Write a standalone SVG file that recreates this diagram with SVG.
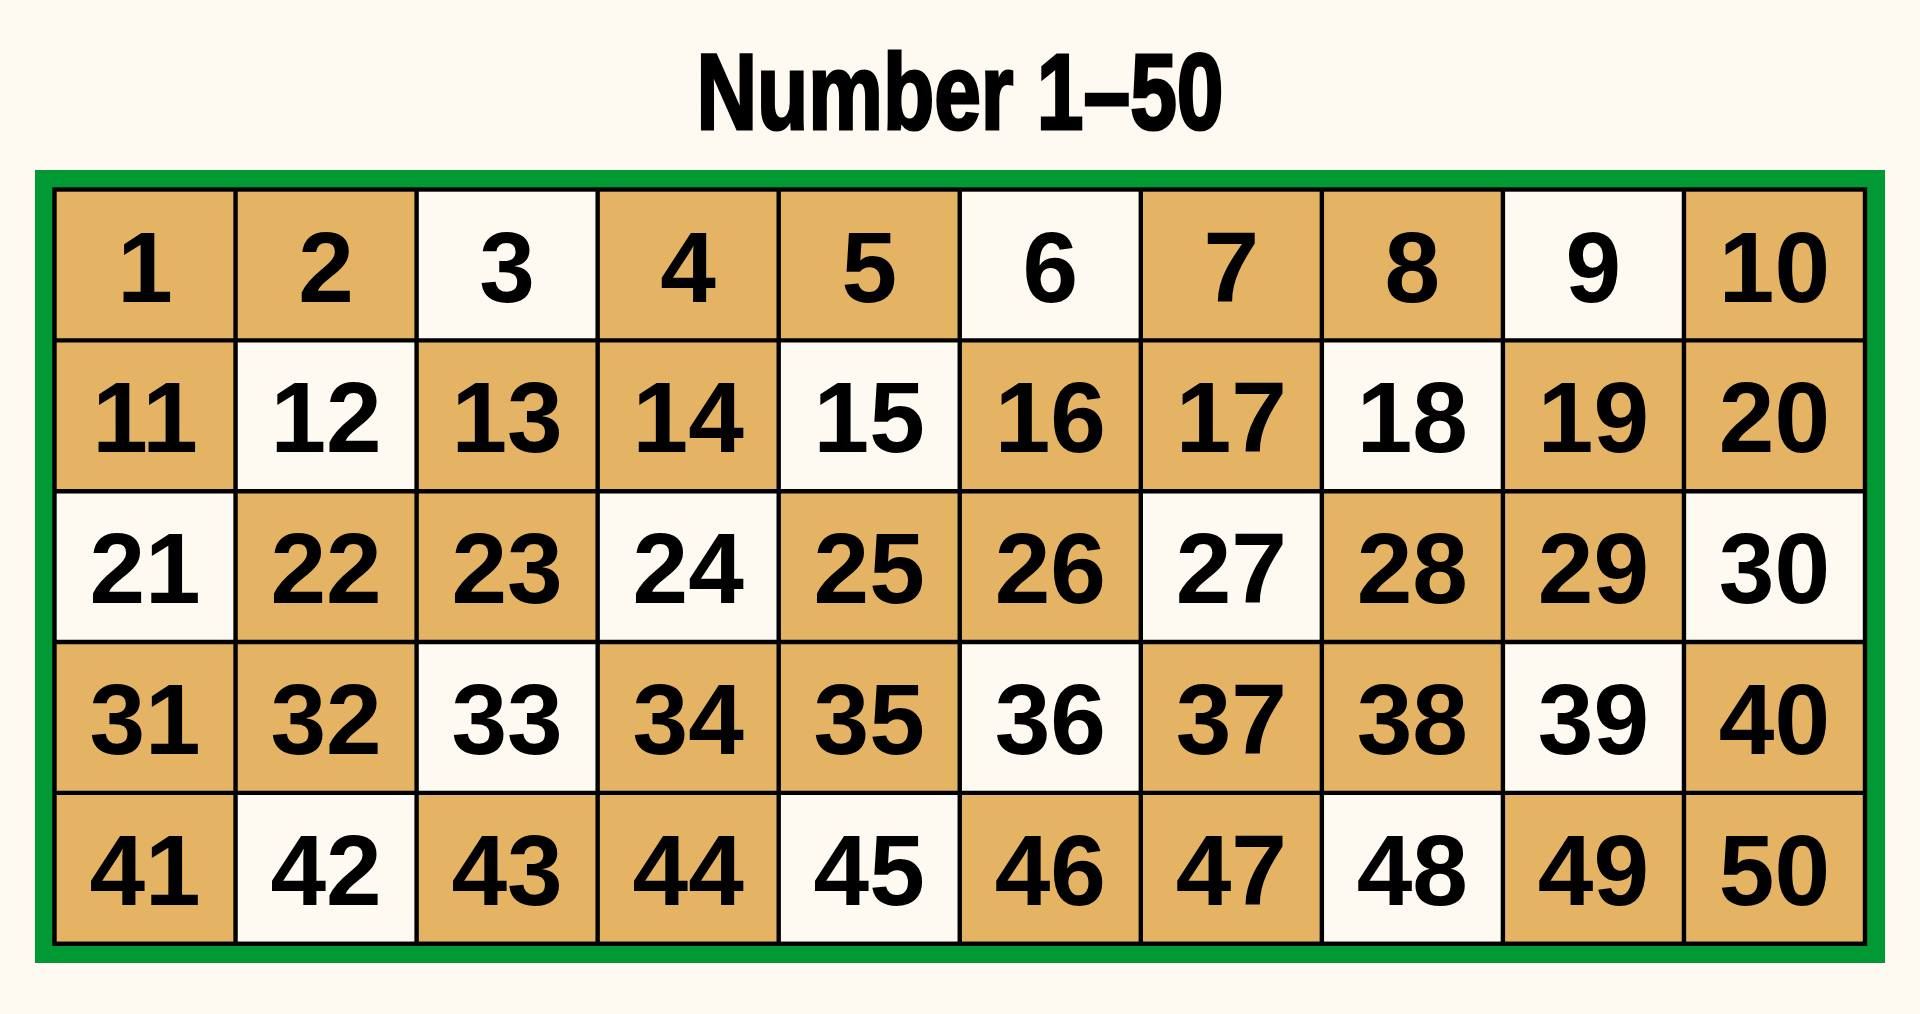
<svg xmlns="http://www.w3.org/2000/svg" width="1920" height="1014" viewBox="0 0 1920 1014">
<style>
.bg{fill:#FEFAF2}
.t{fill:#E4B363}
.w{fill:#FEFAF2}
.n{font-family:"Liberation Sans",Arial,sans-serif;font-weight:bold;font-size:100px;fill:#000;text-anchor:middle}
.title{font-family:"Liberation Sans Narrow","Liberation Sans",Arial,sans-serif;font-weight:bold;font-size:108px;fill:#000;stroke:#000;stroke-width:3;stroke-linejoin:miter;text-anchor:middle}
.ln{stroke:#000;stroke-width:4.4;fill:none}
</style>
<rect class="bg" x="0" y="0" width="1920" height="1014"/>
<text id="title" class="title" x="960" y="129" textLength="527" lengthAdjust="spacingAndGlyphs">Number 1–50</text>
<rect id="frame" x="35" y="170" width="1850" height="793" fill="#009933"/>
<g id="cells">
<g id="c1"><rect class="t" x="54.5" y="189.5" width="181.05" height="150.85"/><text class="n" x="145.03" y="301.5">1</text></g>
<g id="c2"><rect class="t" x="235.55" y="189.5" width="181.05" height="150.85"/><text class="n" x="326.08" y="301.5">2</text></g>
<g id="c3"><rect class="w" x="416.6" y="189.5" width="181.05" height="150.85"/><text class="n" x="507.13" y="301.5">3</text></g>
<g id="c4"><rect class="t" x="597.65" y="189.5" width="181.05" height="150.85"/><text class="n" x="688.18" y="301.5">4</text></g>
<g id="c5"><rect class="t" x="778.7" y="189.5" width="181.05" height="150.85"/><text class="n" x="869.23" y="301.5">5</text></g>
<g id="c6"><rect class="w" x="959.75" y="189.5" width="181.05" height="150.85"/><text class="n" x="1050.28" y="301.5">6</text></g>
<g id="c7"><rect class="t" x="1140.8" y="189.5" width="181.05" height="150.85"/><text class="n" x="1231.33" y="301.5">7</text></g>
<g id="c8"><rect class="t" x="1321.85" y="189.5" width="181.05" height="150.85"/><text class="n" x="1412.38" y="301.5">8</text></g>
<g id="c9"><rect class="w" x="1502.9" y="189.5" width="181.05" height="150.85"/><text class="n" x="1593.43" y="301.5">9</text></g>
<g id="c10"><rect class="t" x="1683.95" y="189.5" width="181.05" height="150.85"/><text class="n" x="1774.48" y="301.5">10</text></g>
<g id="c11"><rect class="t" x="54.5" y="340.35" width="181.05" height="150.85"/><text class="n" x="145.03" y="452.35">11</text></g>
<g id="c12"><rect class="w" x="235.55" y="340.35" width="181.05" height="150.85"/><text class="n" x="326.08" y="452.35">12</text></g>
<g id="c13"><rect class="t" x="416.6" y="340.35" width="181.05" height="150.85"/><text class="n" x="507.13" y="452.35">13</text></g>
<g id="c14"><rect class="t" x="597.65" y="340.35" width="181.05" height="150.85"/><text class="n" x="688.18" y="452.35">14</text></g>
<g id="c15"><rect class="w" x="778.7" y="340.35" width="181.05" height="150.85"/><text class="n" x="869.23" y="452.35">15</text></g>
<g id="c16"><rect class="t" x="959.75" y="340.35" width="181.05" height="150.85"/><text class="n" x="1050.28" y="452.35">16</text></g>
<g id="c17"><rect class="t" x="1140.8" y="340.35" width="181.05" height="150.85"/><text class="n" x="1231.33" y="452.35">17</text></g>
<g id="c18"><rect class="w" x="1321.85" y="340.35" width="181.05" height="150.85"/><text class="n" x="1412.38" y="452.35">18</text></g>
<g id="c19"><rect class="t" x="1502.9" y="340.35" width="181.05" height="150.85"/><text class="n" x="1593.43" y="452.35">19</text></g>
<g id="c20"><rect class="t" x="1683.95" y="340.35" width="181.05" height="150.85"/><text class="n" x="1774.48" y="452.35">20</text></g>
<g id="c21"><rect class="w" x="54.5" y="491.2" width="181.05" height="150.85"/><text class="n" x="145.03" y="603.2">21</text></g>
<g id="c22"><rect class="t" x="235.55" y="491.2" width="181.05" height="150.85"/><text class="n" x="326.08" y="603.2">22</text></g>
<g id="c23"><rect class="t" x="416.6" y="491.2" width="181.05" height="150.85"/><text class="n" x="507.13" y="603.2">23</text></g>
<g id="c24"><rect class="w" x="597.65" y="491.2" width="181.05" height="150.85"/><text class="n" x="688.18" y="603.2">24</text></g>
<g id="c25"><rect class="t" x="778.7" y="491.2" width="181.05" height="150.85"/><text class="n" x="869.23" y="603.2">25</text></g>
<g id="c26"><rect class="t" x="959.75" y="491.2" width="181.05" height="150.85"/><text class="n" x="1050.28" y="603.2">26</text></g>
<g id="c27"><rect class="w" x="1140.8" y="491.2" width="181.05" height="150.85"/><text class="n" x="1231.33" y="603.2">27</text></g>
<g id="c28"><rect class="t" x="1321.85" y="491.2" width="181.05" height="150.85"/><text class="n" x="1412.38" y="603.2">28</text></g>
<g id="c29"><rect class="t" x="1502.9" y="491.2" width="181.05" height="150.85"/><text class="n" x="1593.43" y="603.2">29</text></g>
<g id="c30"><rect class="w" x="1683.95" y="491.2" width="181.05" height="150.85"/><text class="n" x="1774.48" y="603.2">30</text></g>
<g id="c31"><rect class="t" x="54.5" y="642.05" width="181.05" height="150.85"/><text class="n" x="145.03" y="754.05">31</text></g>
<g id="c32"><rect class="t" x="235.55" y="642.05" width="181.05" height="150.85"/><text class="n" x="326.08" y="754.05">32</text></g>
<g id="c33"><rect class="w" x="416.6" y="642.05" width="181.05" height="150.85"/><text class="n" x="507.13" y="754.05">33</text></g>
<g id="c34"><rect class="t" x="597.65" y="642.05" width="181.05" height="150.85"/><text class="n" x="688.18" y="754.05">34</text></g>
<g id="c35"><rect class="t" x="778.7" y="642.05" width="181.05" height="150.85"/><text class="n" x="869.23" y="754.05">35</text></g>
<g id="c36"><rect class="w" x="959.75" y="642.05" width="181.05" height="150.85"/><text class="n" x="1050.28" y="754.05">36</text></g>
<g id="c37"><rect class="t" x="1140.8" y="642.05" width="181.05" height="150.85"/><text class="n" x="1231.33" y="754.05">37</text></g>
<g id="c38"><rect class="t" x="1321.85" y="642.05" width="181.05" height="150.85"/><text class="n" x="1412.38" y="754.05">38</text></g>
<g id="c39"><rect class="w" x="1502.9" y="642.05" width="181.05" height="150.85"/><text class="n" x="1593.43" y="754.05">39</text></g>
<g id="c40"><rect class="t" x="1683.95" y="642.05" width="181.05" height="150.85"/><text class="n" x="1774.48" y="754.05">40</text></g>
<g id="c41"><rect class="t" x="54.5" y="792.9" width="181.05" height="150.85"/><text class="n" x="145.03" y="904.9">41</text></g>
<g id="c42"><rect class="w" x="235.55" y="792.9" width="181.05" height="150.85"/><text class="n" x="326.08" y="904.9">42</text></g>
<g id="c43"><rect class="t" x="416.6" y="792.9" width="181.05" height="150.85"/><text class="n" x="507.13" y="904.9">43</text></g>
<g id="c44"><rect class="t" x="597.65" y="792.9" width="181.05" height="150.85"/><text class="n" x="688.18" y="904.9">44</text></g>
<g id="c45"><rect class="w" x="778.7" y="792.9" width="181.05" height="150.85"/><text class="n" x="869.23" y="904.9">45</text></g>
<g id="c46"><rect class="t" x="959.75" y="792.9" width="181.05" height="150.85"/><text class="n" x="1050.28" y="904.9">46</text></g>
<g id="c47"><rect class="t" x="1140.8" y="792.9" width="181.05" height="150.85"/><text class="n" x="1231.33" y="904.9">47</text></g>
<g id="c48"><rect class="w" x="1321.85" y="792.9" width="181.05" height="150.85"/><text class="n" x="1412.38" y="904.9">48</text></g>
<g id="c49"><rect class="t" x="1502.9" y="792.9" width="181.05" height="150.85"/><text class="n" x="1593.43" y="904.9">49</text></g>
<g id="c50"><rect class="t" x="1683.95" y="792.9" width="181.05" height="150.85"/><text class="n" x="1774.48" y="904.9">50</text></g>
</g>
<g id="connectors">
<rect class="ln" x="54.5" y="189.5" width="1810.5" height="754.25"/>
<path class="ln" d="M235.55 189.5V943.75M416.6 189.5V943.75M597.65 189.5V943.75M778.7 189.5V943.75M959.75 189.5V943.75M1140.8 189.5V943.75M1321.85 189.5V943.75M1502.9 189.5V943.75M1683.95 189.5V943.75M54.5 340.35H1865M54.5 491.2H1865M54.5 642.05H1865M54.5 792.9H1865"/>
</g>
</svg>
